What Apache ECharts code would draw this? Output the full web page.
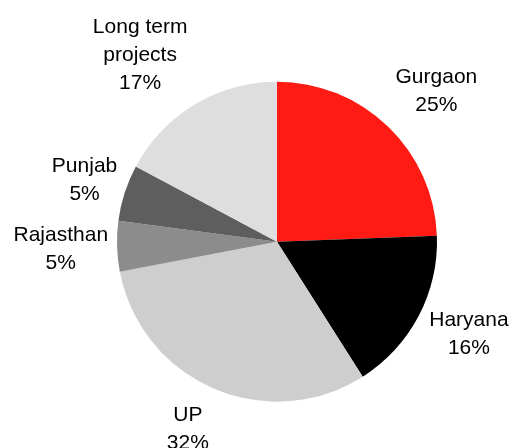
<!DOCTYPE html>
<html>
<head>
<meta charset="utf-8">
<script src="https://cdn.jsdelivr.net/npm/echarts@6/dist/echarts.min.js"></script>
<style>
  html, body { margin: 0; padding: 0; background: #ffffff; }
  #chart { width: 509px; height: 448px; }
</style>
</head>
<body>
<div id="chart"></div>
<script>
// ---- data ----
var categories = ['Gurgaon', 'Haryana', 'UP', 'Rajasthan', 'Punjab', 'Long term\nprojects'];
var values = [24.4, 16.6, 31.0, 5.1, 5.7, 17.2];
var pctLabels = ['25%', '16%', '32%', '5%', '5%', '17%'];

// ---- style / layout ----
var colors = ['#FF1A14', '#000000', '#CECECE', '#8C8C8C', '#5E5E5E', '#DEDEDE'];
var CX = 277, CY = 241.7, R = 160;
var LABEL_GAP = 12;
var labelNudge = [[0, 1.5], [0, -6], [-9, 2], [3, 2], [4, 3], [-14, 3]];

var total = values.reduce(function (a, b) { return a + b; }, 0);
var midAngles = [];
(function () {
  var acc = 0;
  for (var i = 0; i < values.length; i++) {
    midAngles.push(((acc + values[i] / 2) / total) * 2 * Math.PI);
    acc += values[i];
  }
})();

var chart = echarts.init(document.getElementById('chart'), null, { renderer: 'canvas' });
chart.setOption({
  backgroundColor: '#ffffff',
  animation: false,
  series: [{
    type: 'pie',
    center: [CX, CY],
    radius: [0, R],
    startAngle: 90,
    clockwise: true,
    avoidLabelOverlap: false,
    itemStyle: { borderWidth: 0 },
    label: {
      show: true,
      position: 'outside',
      formatter: function (p) { return p.name + '\n' + pctLabels[p.dataIndex]; },
      fontFamily: '"Liberation Sans", Arial, sans-serif',
      fontSize: 21,
      lineHeight: 28,
      color: '#000000',
      align: 'center'
    },
    labelLine: { show: false },
    labelLayout: function (params) {
      var i = params.dataIndex;
      var a = midAngles[i];
      var dx = Math.sin(a), dy = -Math.cos(a);
      var px = CX + (R + LABEL_GAP) * dx;
      var py = CY + (R + LABEL_GAP) * dy;
      var k = 1.414;
      var fx = Math.max(-1, Math.min(1, dx * k));
      var fy = Math.max(-1, Math.min(1, dy * k));
      var w = params.labelRect.width, h = params.labelRect.height;
      return {
        x: px + fx * w / 2 + labelNudge[i][0],
        y: py + fy * h / 2 + labelNudge[i][1],
        align: 'center',
        verticalAlign: 'middle'
      };
    },
    data: categories.map(function (c, i) {
      return { name: c, value: values[i], itemStyle: { color: colors[i] } };
    })
  }]
});
</script>
</body>
</html>
